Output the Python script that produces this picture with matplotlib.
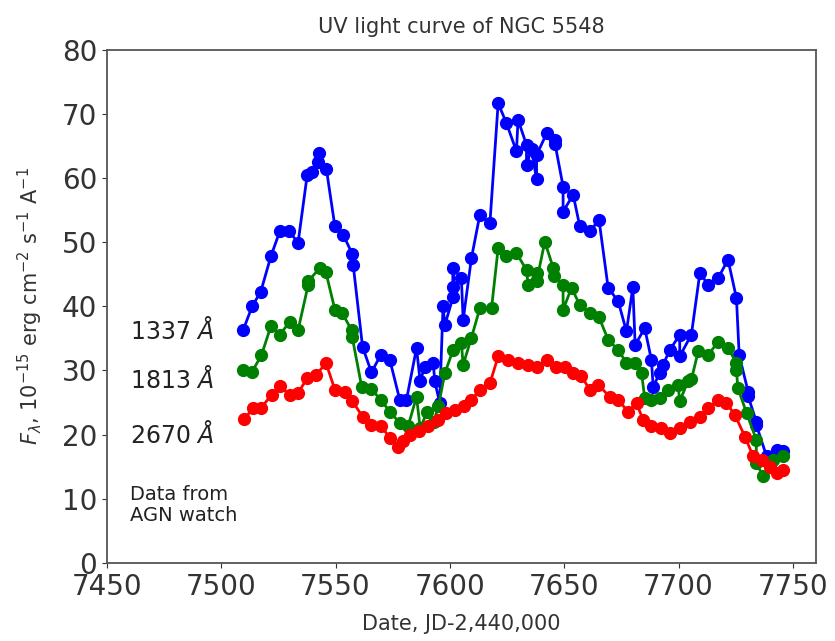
import matplotlib
matplotlib.use('Agg')
import matplotlib.pyplot as plt

# --- data (JD-2,440,000, flux) ---
jd_1337 = [7509.6, 7513.5, 7517.3, 7521.7, 7525.6, 7529.6, 7533.6, 7537.6, 7539.5, 7542.5,
           7542.8, 7546.0, 7549.7, 7553.3, 7557.3, 7557.7, 7561.8, 7565.7, 7569.7, 7573.7,
           7578.1, 7581.0, 7585.4, 7587.0, 7589.0, 7592.7, 7593.4, 7595.5, 7597.0, 7597.8,
           7601.4, 7601.4, 7601.4, 7605.0, 7605.8, 7609.4, 7613.1, 7617.5, 7621.1, 7624.7,
           7629.1, 7629.8, 7633.5, 7633.5, 7635.7, 7637.9, 7637.9, 7642.3, 7645.9, 7646.0,
           7649.5, 7649.5, 7653.9, 7656.8, 7661.2, 7665.2, 7669.2, 7673.6, 7677.2, 7680.0,
           7681.0, 7685.2, 7688.1, 7688.9, 7691.8, 7693.2, 7696.2, 7700.5, 7700.5, 7705.6,
           7709.3, 7712.9, 7717.3, 7721.6, 7725.3, 7726.5, 7730.4, 7730.4, 7734.0, 7734.0,
           7738.5, 7742.9, 7745.6]
f_1337 = [36.3, 40.0, 42.3, 47.8, 51.7, 51.8, 49.9, 60.5, 61.0, 62.6,
          63.9, 61.4, 52.5, 51.2, 48.2, 46.5, 33.7, 29.7, 32.4, 31.7,
          25.4, 25.4, 33.5, 28.3, 30.6, 31.2, 28.3, 25.0, 40.0, 37.1,
          41.5, 46.0, 43.1, 44.4, 37.9, 47.5, 54.3, 53.0, 71.7, 68.6,
          64.2, 69.1, 65.2, 62.1, 64.5, 59.8, 63.6, 67.0, 66.0, 65.3,
          58.7, 54.8, 57.4, 52.5, 51.7, 53.5, 42.9, 40.8, 36.1, 43.0,
          34.0, 36.6, 31.7, 27.5, 29.6, 30.9, 33.2, 35.6, 32.2, 35.6,
          45.2, 43.4, 44.4, 47.3, 41.3, 32.4, 26.7, 26.0, 22.0, 21.5,
          16.6, 17.6, 17.5]

jd_1813 = [7509.6, 7513.5, 7517.6, 7521.7, 7525.6, 7530.0, 7533.6, 7538.0, 7538.0, 7543.1,
           7545.8, 7549.7, 7553.0, 7557.0, 7557.3, 7561.4, 7565.7, 7569.8, 7573.7, 7578.1,
           7581.7, 7585.4, 7587.0, 7590.0, 7593.0, 7595.0, 7597.8, 7601.4, 7605.0, 7605.8,
           7609.4, 7613.1, 7618.2, 7621.1, 7624.7, 7629.1, 7633.5, 7634.2, 7637.9, 7637.9,
           7641.5, 7645.2, 7645.4, 7649.5, 7649.5, 7653.2, 7656.8, 7661.2, 7665.2, 7669.2,
           7673.6, 7677.2, 7680.9, 7683.8, 7685.2, 7688.1, 7691.8, 7695.4, 7699.8, 7700.5,
           7704.1, 7705.6, 7708.6, 7712.9, 7717.3, 7721.6, 7725.3, 7725.3, 7725.9, 7729.7,
           7734.0, 7734.0, 7736.9, 7741.3, 7745.6]
f_1813 = [30.1, 29.8, 32.4, 36.9, 35.6, 37.6, 36.3, 43.3, 43.9, 46.0,
          45.3, 39.5, 38.9, 36.3, 35.2, 27.5, 27.1, 25.4, 23.6, 21.8,
          21.3, 25.9, 21.0, 23.5, 22.0, 24.5, 29.6, 33.2, 34.3, 30.9,
          35.1, 39.7, 39.7, 49.1, 47.8, 48.3, 45.7, 43.4, 45.2, 43.9,
          50.1, 46.0, 44.8, 43.4, 39.5, 42.9, 40.2, 39.0, 38.3, 34.8,
          33.2, 31.2, 31.2, 29.6, 25.7, 25.4, 25.7, 27.0, 27.8, 25.2,
          28.3, 28.6, 33.0, 32.4, 34.5, 33.5, 31.2, 30.1, 27.3, 23.4,
          19.2, 15.6, 13.5, 16.1, 16.6]

jd_2670 = [7509.9, 7514.0, 7517.3, 7522.0, 7525.6, 7530.0, 7533.6, 7537.6, 7541.6, 7545.8,
           7549.7, 7554.1, 7557.4, 7561.8, 7565.7, 7570.0, 7573.7, 7577.4, 7579.5, 7582.5,
           7586.5, 7590.5, 7594.9, 7598.5, 7602.2, 7606.0, 7609.4, 7613.1, 7617.5, 7621.1,
           7625.5, 7629.8, 7634.2, 7637.9, 7642.3, 7646.6, 7650.3, 7653.9, 7657.5, 7661.2,
           7664.8, 7669.9, 7673.6, 7677.9, 7681.6, 7684.5, 7688.1, 7692.5, 7696.2, 7700.5,
           7704.9, 7709.3, 7712.9, 7717.3, 7720.9, 7724.6, 7729.0, 7732.6, 7736.3, 7739.9,
           7742.9, 7745.6]
f_2670 = [22.4, 24.1, 24.1, 26.2, 27.6, 26.2, 26.5, 28.8, 29.3, 31.2,
          27.0, 26.7, 25.2, 22.8, 21.5, 21.3, 19.5, 18.1, 19.0, 20.0,
          20.5, 21.3, 22.3, 23.4, 23.9, 24.5, 25.4, 27.0, 28.0, 32.2,
          31.7, 31.2, 30.9, 30.6, 31.7, 30.6, 30.6, 29.6, 29.1, 27.0,
          27.8, 25.9, 25.4, 23.6, 24.9, 22.3, 21.3, 21.0, 20.2, 21.0,
          22.0, 22.8, 24.1, 25.4, 24.9, 23.1, 19.7, 16.6, 16.1, 15.0,
          14.0, 14.5]

band_labels = [r'1337 $\AA$', r'1813 $\AA$', r'2670 $\AA$']
label_y = [36.3, 28.6, 20.0]

fig = plt.figure(figsize=(8.35, 6.41), dpi=100)
ax = fig.add_axes([0.128, 0.122, 0.849, 0.800])

ax.plot(jd_1337, f_1337, 'o-', color='blue', ms=8.5, lw=2)
ax.plot(jd_1813, f_1813, 'o-', color='green', ms=8.5, lw=2)
ax.plot(jd_2670, f_2670, 'o-', color='red', ms=8.5, lw=2)

for txt, yy in zip(band_labels, label_y):
    ax.text(7460, yy, txt, fontsize=17, va='center', ha='left', color='#222222')
ax.text(7460, 9.0, 'Data from\nAGN watch', fontsize=14, va='center', ha='left',
        color='#222222', linespacing=1.15)

ax.set_xlim(7450, 7760)
ax.set_ylim(0, 80)
ax.set_xticks([7450, 7500, 7550, 7600, 7650, 7700, 7750])
ax.set_yticks(range(0, 81, 10))
ax.tick_params(labelsize=20, colors='#333333')
for s in ax.spines.values():
    s.set_color('#555555')
    s.set_linewidth(1.3)

ax.set_title('UV light curve of NGC 5548', fontsize=15, color='#333333', pad=12)
ax.set_xlabel('Date, JD-2,440,000', fontsize=15, color='#333333', labelpad=10)
ax.set_ylabel(r'$F_{\lambda}$, $10^{-15}$ erg cm$^{-2}$ s$^{-1}$ A$^{-1}$',
              fontsize=15, color='#333333', labelpad=12)

fig.savefig('out.png', dpi=100)
